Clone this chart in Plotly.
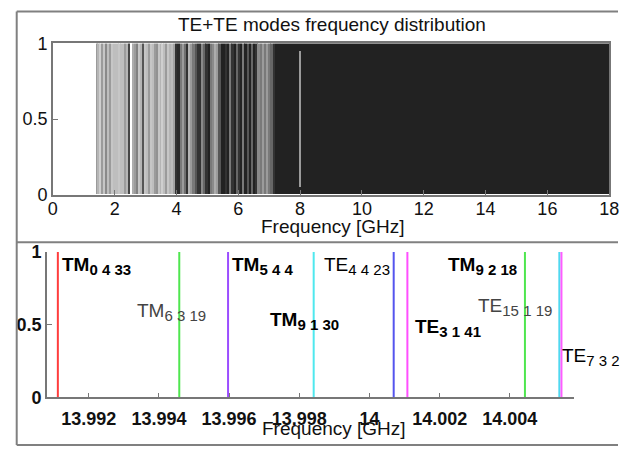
import plotly.graph_objects as go

FONT = "Liberation Sans, Arial, Helvetica, sans-serif"
W, H = 628, 457

# ---- Upper panel: TE+TE mode frequencies (GHz) and relative line density (0 = sparse, 1 = dense)
mode_freq_ghz = [
    1.42, 1.48, 1.54, 1.60, 1.66, 1.72, 1.79, 1.85, 1.92, 1.98,
    2.04, 2.10, 2.16, 2.22, 2.28, 2.34, 2.40, 2.47, 2.60, 2.66,
    2.72, 2.79, 2.85, 2.92, 2.98, 3.04, 3.11, 3.18, 3.24, 3.30,
    3.36, 3.43, 3.49, 3.55, 3.61, 3.67, 3.73, 3.80, 3.86, 3.92,
    3.99, 4.06, 4.13, 4.20, 4.27, 4.34, 4.41, 4.48, 4.55, 4.62,
    4.69, 4.76, 4.83, 4.90, 4.97, 5.04, 5.11, 5.18, 5.25, 5.32,
    5.39, 5.46, 5.53, 5.60, 5.67, 5.74, 5.81, 5.88, 5.95, 6.02,
    6.09, 6.16, 6.23, 6.30, 6.37, 6.44, 6.51, 6.58, 6.65, 6.72,
    6.79, 6.86, 6.93, 7.00, 7.07, 7.14,
]
mode_density = [
    0.30, 0.15, 0.00, 0.30, 0.05, 0.40, 0.10, 0.30, 0.05, 0.10,
    0.10, 0.10, 0.05, 0.10, 0.10, 0.30, 0.15, 0.80, 0.20, 0.30,
    0.45, 0.05, 0.15, 0.70, 0.05, 0.10, 0.30, 0.05, 0.10, 0.30,
    0.35, 0.05, 0.15, 0.00, 0.10, 0.30, 0.05, 0.15, 0.10, 0.25,
    0.90, 0.95, 0.50, 0.30, 0.55, 0.90, 0.15, 0.30, 0.50, 0.70,
    0.90, 0.90, 0.40, 0.60, 0.90, 1.00, 0.50, 0.40, 0.20, 0.30,
    0.70, 1.00, 1.00, 0.90, 1.00, 0.50, 0.90, 1.00, 0.60, 0.90,
    1.00, 0.50, 1.00, 0.70, 1.00, 0.60, 1.00, 0.90, 0.40, 0.50,
    0.30, 0.50, 0.30, 0.50, 0.60, 0.90,
]
# above ~7.2 GHz the modes merge into a continuum
dense_band_ghz = [7.18, 18.0]
dense_band_density = 1.0
# a single lighter mode line inside the continuum
gap_line_ghz = 8.0
gap_line_span = [0.05, 0.95]
gap_line_density = 0.3

# ---- Lower panel: modes close to 14 GHz
near_mode_ghz = [13.99112, 13.99458, 13.99597, 13.99841, 14.00069,
                 14.00108, 14.00443, 14.00541, 14.00547]
near_mode_colors = ["#ff3d3d", "#4fe64f", "#9b4dff", "#4fe8ee", "#5555ee",
                    "#ff4fff", "#4fe64f", "#4fd8f0", "#ff5cff"]

mode_family = ["TM", "TM", "TM", "TM", "TE", "TE", "TM", "TE", "TE"]
mode_indices = ["0 4 33", "6 3 19", "5 4 4", "9 1 30", "4 4 23",
                "3 1 41", "9 2 18", "15 1 19", "7 3 2"]
label_freq = [13.99117, 13.99331, 13.99603, 13.99711, 13.99864,
              14.00125, 14.00217, 14.00303, 14.00542]
label_level = [0.905, 0.59, 0.90, 0.525, 0.90, 0.48, 0.90, 0.62, 0.28]
label_bold = [True, False, True, True, False, True, True, False, False]
label_color = ["#000", "#444", "#000", "#000", "#000", "#000", "#000", "#444", "#000"]

top_xticks = list(range(0, 19, 2))
bot_xticks = [13.992, 13.994, 13.996, 13.998, 14.0, 14.002, 14.004]
bot_xticklabels = ["13.992", "13.994", "13.996", "13.998", "14", "14.002", "14.004"]
y_ticks = [0, 0.5, 1]
y_ticklabels = ["0", "0.5", "1"]


def px_x(p):
    return p / W


def px_y(p):
    return 1 - p / H


grey_scale = [[0.0, "#cfcfcf"], [1.0, "#222222"]]

fig = go.Figure()

# continuum band
fig.add_trace(go.Bar(
    x=[(dense_band_ghz[0] + dense_band_ghz[1]) / 2], y=[1],
    width=[dense_band_ghz[1] - dense_band_ghz[0]],
    marker=dict(color=[dense_band_density], colorscale=grey_scale, cmin=0, cmax=1,
                line_width=0),
    xaxis="x", yaxis="y", showlegend=False, hoverinfo="skip"))

# individual mode lines
widths = [0.05 if f < 3.97 else 0.075 for f in mode_freq_ghz]
fig.add_trace(go.Bar(
    x=mode_freq_ghz, y=[1] * len(mode_freq_ghz), width=widths,
    marker=dict(color=mode_density, colorscale=grey_scale, cmin=0, cmax=1, line_width=0),
    xaxis="x", yaxis="y", showlegend=False, hoverinfo="x"))

# light line inside the continuum
fig.add_trace(go.Bar(
    x=[gap_line_ghz], y=[gap_line_span[1] - gap_line_span[0]], base=[gap_line_span[0]],
    width=[0.03],
    marker=dict(color=[gap_line_density], colorscale=grey_scale, cmin=0, cmax=1,
                line_width=0),
    xaxis="x", yaxis="y", showlegend=False, hoverinfo="x"))

# lower panel: vertical mode lines
for f, c in zip(near_mode_ghz, near_mode_colors):
    fig.add_trace(go.Scatter(
        x=[f, f], y=[0, 1], mode="lines", line=dict(color=c, width=2),
        xaxis="x2", yaxis="y2", showlegend=False, hoverinfo="x"))

# mode labels; the last one runs into the right edge of the figure and is cut there
x2_range = [13.99081, 14.00583]
x2_dom = [43, 583]


def freq_to_px(f):
    return x2_dom[0] + (f - x2_range[0]) / (x2_range[1] - x2_range[0]) * (x2_dom[1] - x2_dom[0])


annotations = []
for fam, idx, f, lv, b, col in zip(mode_family, mode_indices, label_freq, label_level,
                                   label_bold, label_color):
    txt = f'{fam}<sub><span style="font-size:15px">{idx}</span></sub>'
    ann = dict(
        x=f, y=lv, xref="x2", yref="y2", text=txt, showarrow=False,
        xanchor="left", yanchor="middle", align="left",
        font=dict(family=FONT, size=19, color=col, weight="bold" if b else "normal"))
    room = W - freq_to_px(f) - 2
    if room < 90:
        ann["width"] = room
    annotations.append(ann)

annotations += [
    dict(x=px_x(334.5), y=px_y(15), xref="paper", yref="paper",
         text="TE+TE modes frequency distribution", showarrow=False,
         xanchor="center", yanchor="middle", font=dict(family=FONT, size=19, color="#111")),
    dict(x=px_x(336), y=px_y(226), xref="paper", yref="paper",
         text="Frequency [GHz]", showarrow=False,
         xanchor="center", yanchor="middle", font=dict(family=FONT, size=19, color="#111")),
    dict(x=px_x(337.5), y=px_y(438), xref="paper", yref="paper",
         text="Frequency [GHz]", showarrow=False,
         xanchor="center", yanchor="middle", font=dict(family=FONT, size=19, color="#111")),
]

# outer frame (open on the right) and panel separator
frame = dict(color="#808080", width=2)
shapes = [
    dict(type="line", xref="paper", yref="paper", x0=px_x(12), x1=1,
         y0=px_y(1.5), y1=px_y(1.5), line=frame),
    dict(type="line", xref="paper", yref="paper", x0=px_x(12), x1=1,
         y0=px_y(455), y1=px_y(455), line=frame),
    dict(type="line", xref="paper", yref="paper", x0=px_x(12), x1=px_x(12),
         y0=px_y(455), y1=px_y(1.5), line=frame),
    dict(type="line", xref="paper", yref="paper", x0=px_x(12), x1=1,
         y0=px_y(243), y1=px_y(243), line=frame),
]

axis_common = dict(showgrid=False, zeroline=False, ticks="inside", ticklen=5,
                   tickcolor="#777", showline=True, linecolor="#777", linewidth=1.5,
                   ticklabeloverflow="allow")

fig.update_layout(
    width=W, height=H, margin=dict(l=0, r=0, t=0, b=0),
    paper_bgcolor="white", plot_bgcolor="white",
    barmode="overlay", bargap=0,
    font=dict(family=FONT, color="#111"),
    annotations=annotations, shapes=shapes,
    xaxis=dict(domain=[px_x(49), px_x(619)], anchor="y", range=[0, 18],
               tickvals=top_xticks, mirror=True, ticklabelstandoff=-3,
               tickfont=dict(family=FONT, size=18, color="#111"), **axis_common),
    yaxis=dict(domain=[px_y(193), px_y(35)], anchor="x", range=[0, 1],
               tickvals=y_ticks, ticktext=y_ticklabels, mirror=True,
               tickfont=dict(family=FONT, size=18, color="#111"), **axis_common),
    xaxis2=dict(domain=[px_x(x2_dom[0]), px_x(x2_dom[1])], anchor="y2",
                range=x2_range, tickvals=bot_xticks, ticktext=bot_xticklabels,
                ticklabelstandoff=4,
                tickfont=dict(family=FONT, size=18, color="#111", weight="bold"),
                **axis_common),
    yaxis2=dict(domain=[px_y(405), px_y(253)], anchor="x2", range=[0, 1],
                tickvals=y_ticks, ticktext=y_ticklabels,
                tickfont=dict(family=FONT, size=18, color="#111", weight="bold"),
                **axis_common),
)

fig.write_html("out.html")
